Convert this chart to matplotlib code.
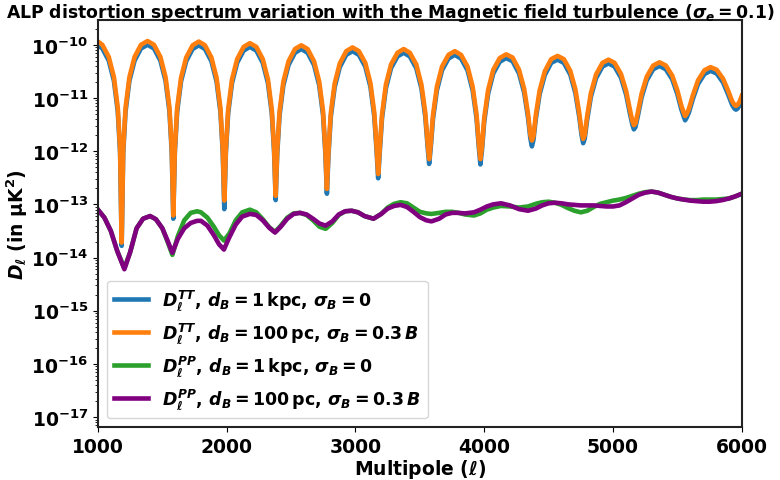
import numpy as np
import matplotlib
matplotlib.use("Agg")
from matplotlib import pyplot as plt
from matplotlib.ticker import NullFormatter

plt.rcParams['mathtext.fontset'] = 'custom'
plt.rcParams['mathtext.rm'] = 'DejaVu Sans:bold'
plt.rcParams['mathtext.it'] = 'DejaVu Sans:italic:bold'
plt.rcParams['mathtext.bf'] = 'DejaVu Sans:bold'

# temperature spectra (log10 of D_ell in muK^2)
tt_ell = [1000, 1034, 1084, 1124, 1154, 1172, 1184, 1196, 1214, 1244, 1284, 1334, 1385,
          1435, 1485, 1525, 1555, 1573, 1585, 1597, 1615, 1645, 1685, 1735, 1783,
          1831, 1881, 1921, 1951, 1969, 1981, 1993, 2011, 2041, 2081, 2131, 2180,
          2230, 2280, 2320, 2350, 2368, 2380, 2392, 2410, 2440, 2480, 2530, 2579,
          2628, 2678, 2718, 2748, 2766, 2778, 2790, 2808, 2838, 2878, 2928, 2977,
          3026, 3076, 3116, 3146, 3164, 3176, 3188, 3206, 3236, 3276, 3326, 3374,
          3422, 3472, 3512, 3542, 3560, 3572, 3584, 3602, 3632, 3672, 3722, 3771,
          3820, 3870, 3910, 3940, 3958, 3970, 3982, 4000, 4030, 4070, 4120, 4170,
          4220, 4270, 4310, 4340, 4358, 4370, 4382, 4400, 4430, 4470, 4520, 4569,
          4618, 4668, 4708, 4738, 4756, 4768, 4780, 4798, 4828, 4868, 4918, 4965,
          5012, 5062, 5102, 5132, 5150, 5162, 5174, 5192, 5222, 5262, 5312, 5361,
          5410, 5460, 5500, 5530, 5548, 5560, 5572, 5590, 5620, 5660, 5710, 5757,
          5805, 5855, 5895, 5925, 5943, 5955, 5967, 5985, 6000]

tt_1kpc = [-10.01, -10.07, -10.30, -10.68, -11.26, -12.04, -13.78, -12.04, -11.26, -10.68, -10.30, -10.07, -10.00,
           -10.07, -10.30, -10.68, -11.25, -12.02, -13.27, -12.03, -11.26, -10.69, -10.31, -10.08, -10.01,
           -10.08, -10.31, -10.69, -11.26, -12.02, -13.09, -12.05, -11.29, -10.72, -10.34, -10.11, -10.04,
           -10.11, -10.34, -10.72, -11.29, -12.02, -12.92, -12.06, -11.33, -10.76, -10.38, -10.15, -10.08,
           -10.15, -10.38, -10.76, -11.32, -12.04, -12.80, -12.08, -11.36, -10.80, -10.42, -10.19, -10.12,
           -10.19, -10.41, -10.79, -11.35, -12.00, -12.51, -12.03, -11.38, -10.82, -10.44, -10.22, -10.15,
           -10.22, -10.44, -10.82, -11.35, -11.91, -12.24, -11.95, -11.39, -10.86, -10.48, -10.26, -10.19,
           -10.26, -10.48, -10.86, -11.38, -11.93, -12.25, -11.99, -11.44, -10.92, -10.54, -10.32, -10.25,
           -10.31, -10.54, -10.90, -11.37, -11.76, -11.91, -11.79, -11.40, -10.93, -10.57, -10.34, -10.28,
           -10.34, -10.56, -10.91, -11.36, -11.70, -11.85, -11.77, -11.43, -10.98, -10.63, -10.41, -10.35,
           -10.41, -10.62, -10.94, -11.30, -11.50, -11.59, -11.55, -11.35, -10.99, -10.67, -10.46, -10.40,
           -10.46, -10.65, -10.93, -11.21, -11.34, -11.42, -11.37, -11.27, -11.02, -10.74, -10.55, -10.49,
           -10.54, -10.71, -10.94, -11.13, -11.20, -11.22, -11.20, -11.13, -11.03]

tt_100pc = [-9.94, -10.00, -10.23, -10.61, -11.19, -11.97, -13.72, -11.97, -11.19, -10.61, -10.23, -10.00, -9.93,
            -10.00, -10.23, -10.61, -11.18, -11.95, -13.21, -11.96, -11.19, -10.62, -10.24, -10.01, -9.94,
            -10.01, -10.24, -10.62, -11.19, -11.95, -12.93, -11.98, -11.22, -10.65, -10.27, -10.04, -9.97,
            -10.04, -10.27, -10.65, -11.22, -11.95, -12.84, -11.99, -11.26, -10.69, -10.31, -10.08, -10.01,
            -10.08, -10.31, -10.69, -11.25, -11.97, -12.71, -12.01, -11.29, -10.73, -10.35, -10.12, -10.05,
            -10.12, -10.34, -10.72, -11.28, -11.93, -12.43, -11.96, -11.31, -10.75, -10.37, -10.15, -10.08,
            -10.15, -10.37, -10.75, -11.28, -11.84, -12.15, -11.88, -11.32, -10.79, -10.41, -10.19, -10.12,
            -10.19, -10.41, -10.79, -11.31, -11.86, -12.15, -11.92, -11.37, -10.85, -10.47, -10.25, -10.18,
            -10.24, -10.47, -10.83, -11.30, -11.69, -11.80, -11.72, -11.33, -10.86, -10.50, -10.27, -10.21,
            -10.27, -10.49, -10.84, -11.29, -11.63, -11.77, -11.70, -11.36, -10.91, -10.56, -10.34, -10.28,
            -10.34, -10.55, -10.87, -11.23, -11.43, -11.51, -11.48, -11.28, -10.92, -10.60, -10.39, -10.33,
            -10.39, -10.58, -10.86, -11.14, -11.27, -11.34, -11.30, -11.20, -10.95, -10.67, -10.48, -10.42,
            -10.47, -10.64, -10.87, -11.06, -11.13, -11.15, -11.13, -11.06, -10.96]

# polarisation spectra
pp_ell = [1000, 1050, 1100, 1150, 1205, 1250, 1300, 1350, 1405, 1450, 1500, 1540, 1578, 1620,
          1670, 1720, 1770, 1800, 1850, 1900, 1940, 1978, 2020, 2070, 2120, 2180, 2230, 2280,
          2330, 2375, 2420, 2470, 2520, 2570, 2620, 2670, 2720, 2768, 2820, 2870, 2920, 2970,
          3020, 3070, 3140, 3200, 3250, 3300, 3350, 3400, 3450, 3500, 3550, 3590, 3650, 3700,
          3750, 3800, 3850, 3920, 3970, 4020, 4070, 4130, 4200, 4270, 4340, 4400, 4450, 4500,
          4550, 4600, 4650, 4700, 4750, 4800, 4850, 4900, 4950, 5000, 5050, 5100, 5150, 5200,
          5250, 5300, 5350, 5400, 5450, 5500, 5550, 5600, 5650, 5700, 5750, 5800, 5850, 5900,
          5950, 6000]

pp_1kpc = [-13.10, -13.25, -13.50, -13.88, -14.20, -13.90, -13.45, -13.27, -13.22, -13.28, -13.45, -13.70, -13.95, -13.60,
           -13.30, -13.16, -13.13, -13.15, -13.25, -13.42, -13.58, -13.68, -13.55, -13.30, -13.15, -13.10, -13.15, -13.28,
           -13.43, -13.52, -13.40, -13.25, -13.17, -13.16, -13.20, -13.30, -13.42, -13.46, -13.35, -13.20, -13.13, -13.12,
           -13.15, -13.22, -13.27, -13.18, -13.06, -12.99, -12.96, -12.98, -13.06, -13.14, -13.17, -13.18, -13.16, -13.14,
           -13.14, -13.16, -13.19, -13.21, -13.17, -13.10, -13.06, -13.03, -13.04, -13.06, -13.04, -12.99, -12.96, -12.95,
           -12.97, -13.01, -13.07, -13.12, -13.15, -13.12, -13.05, -12.99, -12.96, -12.93, -12.91, -12.88, -12.84, -12.80,
           -12.77, -12.76, -12.78, -12.82, -12.86, -12.89, -12.91, -12.92, -12.92, -12.91, -12.91, -12.91, -12.90, -12.89,
           -12.85, -12.80]

pp_100pc = [-13.10, -13.25, -13.50, -13.88, -14.22, -13.90, -13.45, -13.27, -13.22, -13.28, -13.45, -13.68, -13.91, -13.65,
            -13.45, -13.35, -13.31, -13.31, -13.40, -13.58, -13.75, -13.85, -13.62, -13.38, -13.23, -13.18, -13.20, -13.30,
            -13.44, -13.53, -13.42, -13.27, -13.18, -13.16, -13.19, -13.27, -13.36, -13.40, -13.32, -13.19, -13.13, -13.12,
            -13.15, -13.22, -13.27, -13.18, -13.08, -13.03, -13.01, -13.05, -13.14, -13.24, -13.30, -13.32, -13.27, -13.19,
            -13.16, -13.16, -13.17, -13.15, -13.10, -13.04, -13.00, -12.98, -13.02, -13.09, -13.12, -13.08, -13.02, -12.98,
            -12.97, -12.98, -13.00, -13.01, -13.02, -13.02, -13.02, -13.03, -13.04, -13.04, -13.02, -12.96, -12.89, -12.82,
            -12.78, -12.76, -12.78, -12.82, -12.86, -12.89, -12.91, -12.93, -12.94, -12.95, -12.95, -12.94, -12.92, -12.89,
            -12.85, -12.80]

fig, ax = plt.subplots(figsize=(7.8, 4.81), dpi=100)
fig.subplots_adjust(left=0.1256, right=0.951, bottom=0.110, top=0.956)

lw = 3.3
ax.plot(tt_ell, 10.0**np.array(tt_1kpc), color='#1f77b4', lw=lw,
        label=r'$D_\ell^{TT}$, $d_B = 1\,\mathrm{kpc}$, $\sigma_B = 0$')
ax.plot(tt_ell, 10.0**np.array(tt_100pc), color='#ff7f0e', lw=lw,
        label=r'$D_\ell^{TT}$, $d_B = 100\,\mathrm{pc}$, $\sigma_B = 0.3\,B$')
ax.plot(pp_ell, 10.0**np.array(pp_1kpc), color='#2ca02c', lw=lw,
        label=r'$D_\ell^{PP}$, $d_B = 1\,\mathrm{kpc}$, $\sigma_B = 0$')
ax.plot(pp_ell, 10.0**np.array(pp_100pc), color='purple', lw=lw,
        label=r'$D_\ell^{PP}$, $d_B = 100\,\mathrm{pc}$, $\sigma_B = 0.3\,B$')

ax.set_yscale('log')
ax.set_xlim(1000, 6000)
ax.set_ylim(6.5e-18, 2.9e-10)
ax.yaxis.set_minor_formatter(NullFormatter())

for sp in ax.spines.values():
    sp.set_linewidth(1.5)
    sp.set_color('#222222')

ax.tick_params(axis='both', labelsize=13.5)
for lab in ax.get_xticklabels() + ax.get_yticklabels():
    lab.set_fontweight('bold')

ax.set_xlabel(r'Multipole ($\ell$)', fontsize=13.5, fontweight='bold')
ax.set_ylabel(r'$D_\ell$ (in $\mathrm{\mu K}^2$)', fontsize=13.5, fontweight='bold')
ax.xaxis.set_label_coords(0.5, -0.074)
ax.yaxis.set_label_coords(-0.106, 0.5)
fig.text(0.5, 1 - 12.5 / 481,
         r'ALP distortion spectrum variation with the Magnetic field turbulence ($\sigma_e = 0.1$)',
         fontsize=12.4, fontweight='bold', ha='center', va='center')

leg = ax.legend(loc='lower left', prop={'weight': 'bold', 'size': 12.5})

fig.savefig('out.png', dpi=100)
